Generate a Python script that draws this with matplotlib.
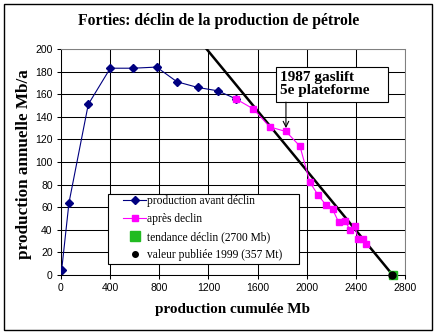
import matplotlib.pyplot as plt
from matplotlib.patches import Rectangle
from matplotlib.lines import Line2D

# production avant declin (Mb cumulee, Mb/a)
avant_x = [5, 65, 222, 401, 588, 778, 944, 1112, 1276, 1421]
avant_y = [4, 64, 151, 183, 183, 184, 171, 166, 163, 156]

# apres declin
apres_x = [1421, 1565, 1700, 1831, 1945, 2026, 2091, 2156, 2211, 2259, 2311, 2352, 2392, 2419, 2455, 2482]
apres_y = [156, 147, 131, 127, 114, 82, 71, 62, 58, 47, 48, 40, 43, 32, 32, 27]

# tendance declin
tend_x = [1185, 2700]
tend_y = [200, 0]
tend_fin_x = [2700]
tend_fin_y = [0]

# valeur publiee 1999
publ_x = [2692]
publ_y = [0]

xticks = list(range(0, 2801, 400))
yticks = list(range(0, 201, 20))

W, H = 439, 336
fig = plt.figure(figsize=(W / 100, H / 100), dpi=100)
ax = fig.add_axes([61 / W, 1 - 275 / H, 344 / W, 226 / H])

serif = ['Liberation Serif', 'DejaVu Serif']
sans = ['Liberation Sans', 'DejaVu Sans']

ax.plot(tend_x, tend_y, color='black', lw=1.8, zorder=4, clip_on=True)
ax.plot(avant_x, avant_y, color='#000080', lw=0.8, marker='D', ms=4, mfc='#000080', mec='#000080', zorder=3)
ax.plot(apres_x, apres_y, color='#ff00ff', lw=0.8, marker='s', ms=4.5, mfc='#ff00ff', mec='#ff00ff', zorder=5)
ax.plot(tend_fin_x, tend_fin_y, ls='none', marker='s', ms=6, color='#22bb22', zorder=6, clip_on=False)
ax.plot(publ_x, publ_y, ls='none', marker='o', ms=5, color='black', zorder=7, clip_on=False)

ax.set_xlim(0, 2800)
ax.set_ylim(0, 200)
ax.set_xticks(xticks)
ax.set_yticks(yticks)
ax.grid(True, color='black', lw=0.75)
ax.set_axisbelow(True)
ax.tick_params(direction='out', length=3, width=0.75, labelsize=7.5, pad=3)
for lab in ax.get_xticklabels() + ax.get_yticklabels():
    lab.set_family(sans)
for s in ['left', 'bottom']:
    ax.spines[s].set_color('black')
    ax.spines[s].set_linewidth(0.75)
for s in ['top', 'right']:
    ax.spines[s].set_color('#808080')
    ax.spines[s].set_linewidth(0.75)

# annotation 1987
ax.add_patch(Rectangle((1750, 153), 912, 31, fc='white', ec='black', lw=0.8, zorder=8))
ax.text(1783, 169, '1987 gaslift\n5e plateforme', family=serif, weight='bold', fontsize=11,
        ha='left', va='center', linespacing=1.0, zorder=9)
ax.annotate('', xy=(1831, 130), xytext=(1831, 153),
            arrowprops=dict(arrowstyle='->', color='black', lw=0.8, shrinkA=0, shrinkB=0), zorder=8)

# legende: cadre dessine a part
ax.add_patch(Rectangle((0.1366, 0.0487), 0.5553, 0.3097, transform=ax.transAxes,
                       fc='white', ec='black', lw=0.8, zorder=9))
handles = [
    Line2D([], [], color='#000080', lw=0.8, marker='D', ms=4),
    Line2D([], [], color='#ff00ff', lw=0.8, marker='s', ms=5),
    Line2D([], [], ls='none', marker='s', ms=7, color='#22bb22'),
    Line2D([], [], ls='none', marker='o', ms=4, color='black'),
]
labels = ['production avant déclin', 'après declin', 'tendance déclin (2700 Mb)', 'valeur publiée 1999 (357 Mt)']
leg = ax.legend(handles, labels, loc='upper left', bbox_to_anchor=(0.1802, 0.352),
                prop={'family': serif, 'size': 8.3}, frameon=False, handlelength=2.0,
                handletextpad=0.1, labelspacing=0.52, borderpad=0, borderaxespad=0)
leg.set_zorder(10)

fig.text(219 / W, 1 - 21 / H, 'Forties: déclin de la production de pétrole', family=serif,
         weight='bold', fontsize=11.3, ha='center', va='center')
fig.text(233 / W, 1 - 310 / H, 'production cumulée Mb', family=serif,
         weight='bold', fontsize=10.9, ha='center', va='center')
fig.text(24 / W, 1 - 164 / H, 'production annuelle Mb/a', family=serif,
         weight='bold', fontsize=12.3, ha='center', va='center', rotation=90)

fig.patches.append(Rectangle((4 / W, 1 - 329.5 / H), 428.5 / W, 325.5 / H, transform=fig.transFigure,
                             fill=False, ec='black', lw=1.0))

fig.savefig('out.png', dpi=100)
